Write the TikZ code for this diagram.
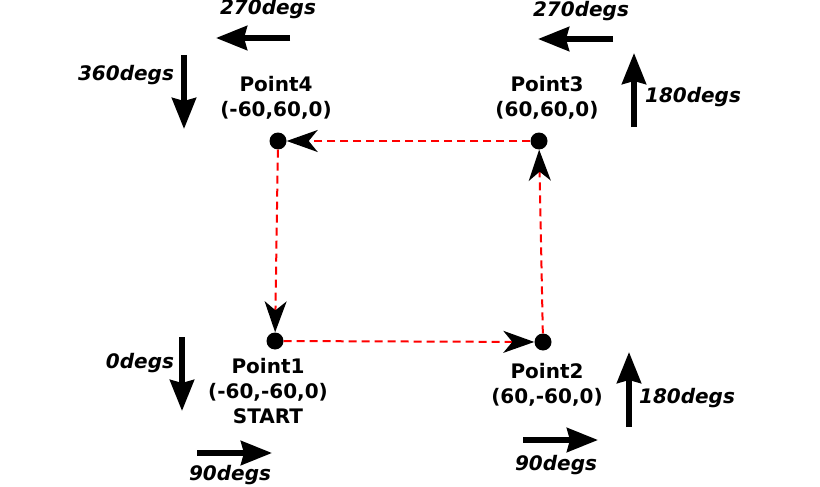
\documentclass[tikz,border=0pt]{standalone}
\usepackage{fontspec}
\setmainfont{DejaVu Sans}
\usetikzlibrary{arrows.meta}

\tikzset{
  dot/.style={circle, fill=black, inner sep=0pt, minimum size=17pt},
  ptlabel/.style={align=center, inner sep=0pt, font=\fontsize{20}{25}\selectfont\bfseries},
  deglabel/.style={inner sep=0pt, font=\fontsize{20}{23}\selectfont\bfseries\itshape},
  route/.style={red, line width=2pt, dash pattern=on 8pt off 5pt, -{Stealth[length=31pt, width=22pt, inset=9pt, black]}},
  turn/.style={line width=5.5pt, -{Stealth[length=31pt, width=24pt, inset=3pt]}}
}

\begin{document}
\begin{tikzpicture}[x=1pt, y=-1pt]
    \useasboundingbox (0,0) rectangle (820,487);
    % corner points
    \node (p1) at (275,341) [dot] {};
    \node (p2) at (543,342) [dot] {};
    \node (p3) at (539,141) [dot] {};
    \node (p4) at (278,141) [dot] {};
    \node (l1) at (268,391) [ptlabel] {Point1\\(-60,-60,0)\\START};
    \node (l2) at (547,385) [ptlabel] {Point2\\(60,-60,0)};
    \node (l3) at (547,98) [ptlabel] {Point3\\(60,60,0)};
    \node (l4) at (276,98) [ptlabel] {Point4\\(-60,60,0)};
    % the square path
    \draw (p1) [route] -- (p2);
    \draw (p2) [route] -- (p3);
    \draw (p3) [route] -- (p4);
    \draw (p4) [route] -- (p1);
    % heading arrows
    \node (d270a) at (268,9) [deglabel] {270degs};
    \node (d270b) at (581,11) [deglabel] {270degs};
    \node (d360) at (126,75) [deglabel] {360degs};
    \node (d180a) at (693,97) [deglabel] {180degs};
    \node (d0) at (140,363) [deglabel] {0degs};
    \node (d90a) at (230,475) [deglabel] {90degs};
    \node (d180b) at (687,398) [deglabel] {180degs};
    \node (d90b) at (556,465) [deglabel] {90degs};
    \coordinate (a270a-s) at (290,38);
    \coordinate (a270a-e) at (216,38);
    \coordinate (a270b-s) at (613,39);
    \coordinate (a270b-e) at (538,39);
    \coordinate (a360-s) at (184,55);
    \coordinate (a360-e) at (184,129);
    \coordinate (a180a-s) at (634,127);
    \coordinate (a180a-e) at (634,53);
    \coordinate (a0-s) at (182,337);
    \coordinate (a0-e) at (182,411);
    \coordinate (a90a-s) at (197,453);
    \coordinate (a90a-e) at (272,453);
    \coordinate (a180b-s) at (629,427);
    \coordinate (a180b-e) at (629,352);
    \coordinate (a90b-s) at (523,440);
    \coordinate (a90b-e) at (598,440);
    \draw (a270a-s) [turn] -- (a270a-e);
    \draw (a270b-s) [turn] -- (a270b-e);
    \draw (a360-s) [turn] -- (a360-e);
    \draw (a180a-s) [turn] -- (a180a-e);
    \draw (a0-s) [turn] -- (a0-e);
    \draw (a90a-s) [turn] -- (a90a-e);
    \draw (a180b-s) [turn] -- (a180b-e);
    \draw (a90b-s) [turn] -- (a90b-e);
\end{tikzpicture}
\end{document}
